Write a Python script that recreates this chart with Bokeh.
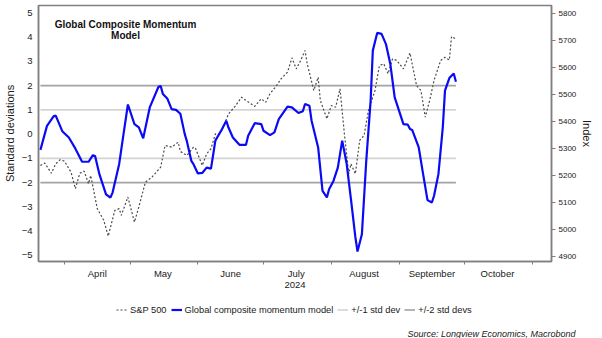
from datetime import datetime
import pandas as pd
from bokeh.plotting import figure
from bokeh.layouts import column
from bokeh.models import (Range1d, LinearAxis, FixedTicker, DatetimeTickFormatter,
                          Legend, LegendItem, Label, Title)
from bokeh.embed import file_html
from bokeh.resources import INLINE

FONT = "Liberation Sans"

# ---------------- data ----------------
model_dates = [
    "2024-03-21", "2024-03-24", "2024-03-27", "2024-03-28", "2024-03-31",
    "2024-04-03", "2024-04-06", "2024-04-09", "2024-04-12", "2024-04-14",
    "2024-04-15", "2024-04-17", "2024-04-20", "2024-04-22", "2024-04-23",
    "2024-04-26", "2024-04-28", "2024-04-30", "2024-05-03", "2024-05-05",
    "2024-05-07", "2024-05-10", "2024-05-14", "2024-05-15", "2024-05-16",
    "2024-05-18", "2024-05-20", "2024-05-22", "2024-05-24", "2024-05-26",
    "2024-05-27", "2024-05-29", "2024-05-30", "2024-06-01", "2024-06-03",
    "2024-06-05", "2024-06-07", "2024-06-09", "2024-06-12", "2024-06-14",
    "2024-06-15", "2024-06-17", "2024-06-20", "2024-06-23", "2024-06-24",
    "2024-06-27", "2024-06-30", "2024-07-01", "2024-07-04", "2024-07-06",
    "2024-07-08", "2024-07-12", "2024-07-14", "2024-07-17", "2024-07-19",
    "2024-07-20", "2024-07-22", "2024-07-23", "2024-07-26", "2024-07-28",
    "2024-07-30", "2024-07-31", "2024-08-02", "2024-08-04", "2024-08-06",
    "2024-08-08", "2024-08-10", "2024-08-12", "2024-08-13", "2024-08-15",
    "2024-08-17", "2024-08-19", "2024-08-20", "2024-08-22", "2024-08-24",
    "2024-08-26", "2024-08-28", "2024-08-30", "2024-09-03", "2024-09-05",
    "2024-09-06", "2024-09-07", "2024-09-10", "2024-09-12", "2024-09-14",
    "2024-09-16", "2024-09-17", "2024-09-19", "2024-09-21", "2024-09-22",
    "2024-09-24", "2024-09-26", "2024-09-27",
]
model_values = [
    -0.65, 0.34, 0.73, 0.76, 0.12,
    -0.14, -0.60, -1.13, -1.14, -0.87,
    -0.90, -1.66, -2.48, -2.62, -2.41,
    -1.24, 0.00, 1.22, 0.41, 0.28,
    -0.17, 1.10, 1.95, 1.98, 1.65,
    1.47, 1.03, 1.00, 0.84, 0.00,
    -0.30, -1.10, -1.24, -1.62, -1.60,
    -1.38, -1.42, -0.27, 0.20, 0.55,
    0.27, -0.14, -0.44, -0.44, -0.07,
    0.45, 0.41, 0.14, -0.04, 0.07,
    0.62, 1.13, 1.10, 0.87, 0.94,
    1.24, 1.17, 0.55, -0.55, -2.34,
    -2.61, -2.27, -1.93, -1.38, -0.27,
    -1.20, -2.68, -4.23, -4.84, -4.13,
    -1.10, 1.38, 3.44, 4.17, 4.13,
    3.71, 2.89, 1.51, 0.41, 0.39,
    0.21, 0.17, -0.55, -1.65, -2.72,
    -2.82, -2.54, -1.65, 0.28, 1.79,
    2.31, 2.50, 2.16,
]

spx_dates = [
    "2024-03-21", "2024-03-23", "2024-03-26", "2024-03-28", "2024-03-30",
    "2024-04-01", "2024-04-04", "2024-04-06", "2024-04-08", "2024-04-10",
    "2024-04-12", "2024-04-13", "2024-04-16", "2024-04-19", "2024-04-21",
    "2024-04-24", "2024-04-26", "2024-04-27", "2024-04-30", "2024-05-03",
    "2024-05-05", "2024-05-08", "2024-05-11", "2024-05-15", "2024-05-17",
    "2024-05-20", "2024-05-23", "2024-05-24", "2024-05-27", "2024-05-30",
    "2024-05-31", "2024-06-03", "2024-06-05", "2024-06-07", "2024-06-09",
    "2024-06-11", "2024-06-12", "2024-06-15", "2024-06-18", "2024-06-21",
    "2024-06-23", "2024-06-27", "2024-06-30", "2024-07-02", "2024-07-04",
    "2024-07-07", "2024-07-09", "2024-07-12", "2024-07-14", "2024-07-16",
    "2024-07-18", "2024-07-20", "2024-07-21", "2024-07-24", "2024-07-26",
    "2024-07-27", "2024-07-30", "2024-08-01", "2024-08-03", "2024-08-05",
    "2024-08-07", "2024-08-09", "2024-08-10", "2024-08-12", "2024-08-14",
    "2024-08-16", "2024-08-18", "2024-08-21", "2024-08-23", "2024-08-25",
    "2024-08-27", "2024-08-29", "2024-08-31", "2024-09-03", "2024-09-06",
    "2024-09-09", "2024-09-11", "2024-09-13", "2024-09-15", "2024-09-17",
    "2024-09-20", "2024-09-22", "2024-09-24", "2024-09-25", "2024-09-27",
]
spx_values = [
    5237, 5246, 5208, 5243, 5258,
    5253, 5212, 5151, 5208, 5216,
    5169, 5200, 5077, 5033, 4975,
    5070, 5077, 5052, 5120, 5027,
    5083, 5175, 5194, 5231, 5311,
    5305, 5323, 5289, 5274, 5305,
    5299, 5237, 5280, 5299, 5354,
    5354, 5367, 5428, 5456, 5490,
    5478, 5456, 5484, 5471, 5503,
    5533, 5558, 5583, 5636, 5595,
    5626, 5663, 5614, 5515, 5564,
    5478, 5410, 5459, 5453, 5521,
    5354, 5206, 5243, 5206, 5330,
    5348, 5441, 5515, 5607, 5614,
    5577, 5632, 5626, 5595, 5654,
    5533, 5515, 5416, 5478, 5552,
    5626, 5638, 5628, 5715, 5706,
]

std1_levels = [1, -1]
std2_levels = [2, -2]
left_ticks = [-5, -4, -3, -2, -1, 0, 1, 2, 3, 4, 5]
right_ticks = [4900, 5000, 5100, 5200, 5300, 5400, 5500, 5600, 5700, 5800]
month_starts = ["2024-04-01", "2024-05-01", "2024-06-01", "2024-07-01",
                "2024-08-01", "2024-09-01", "2024-10-01", "2024-11-01"]
month_label_pos = ["2024-04-16", "2024-05-16", "2024-06-16", "2024-07-16",
                   "2024-08-16", "2024-09-16", "2024-10-16"]
legend_labels = ["S&P 500", "Global composite momentum model",
                 "+/-1 std dev", "+/-2 std devs"]
source_text = "Source: Longview Economics, Macrobond"

# ---------------- styles ----------------
SPX_STYLE = dict(line_color="#4a4a4a", line_width=1.2, line_dash="2 2")
MOD_STYLE = dict(line_color="#0a0af5", line_width=2.2)
STD1_STYLE = dict(line_color="#d4d4d4", line_width=1.6)
STD2_STYLE = dict(line_color="#a3a3a3", line_width=1.6)
AXIS_GRAY = "#7f7f7f"
TXT = "#1a1a1a"


def ms(s):
    return pd.Timestamp(s).value / 1e6


mdates = pd.to_datetime(model_dates)
sdates = pd.to_datetime(spx_dates)

# ---------------- main chart ----------------
p = figure(width=602, height=296, x_axis_type="datetime",
           output_backend="svg", toolbar_location=None,
           x_range=Range1d(datetime(2024, 3, 20, 3), datetime(2024, 11, 9, 17)),
           y_range=Range1d(-5.25, 5.3),
           min_border_left=37, min_border_right=51,
           min_border_top=5, min_border_bottom=35)
p.background_fill_color = "white"
p.border_fill_color = "white"
p.xgrid.visible = False
p.ygrid.visible = False
p.outline_line_color = AXIS_GRAY
p.outline_line_width = 1.5

p.extra_y_ranges = {"idx": Range1d(4881, 5830)}

x_start = mdates.min()
x_end = mdates.max()
p.segment(x0=pd.to_datetime([x_start] * 2), x1=pd.to_datetime([x_end] * 2),
          y0=std1_levels, y1=std1_levels, **STD1_STYLE)
p.segment(x0=pd.to_datetime([x_start] * 2), x1=pd.to_datetime([x_end] * 2),
          y0=std2_levels, y1=std2_levels, **STD2_STYLE)
p.line(x=sdates, y=spx_values, y_range_name="idx", **SPX_STYLE)
p.line(x=mdates, y=model_values, **MOD_STYLE)

# left axis
ya = p.yaxis[0]
ya.ticker = FixedTicker(ticks=left_ticks)
ya.axis_label = "Standard deviations"
ya.axis_label_text_font = FONT
ya.axis_label_text_font_size = "11px"
ya.axis_label_text_font_style = "normal"
ya.axis_label_text_color = TXT
ya.axis_label_standoff = 3
ya.major_label_text_font = FONT
ya.major_label_text_font_size = "9.5px"
ya.major_label_text_color = TXT
ya.major_label_standoff = 6
ya.major_tick_out = 0
ya.major_tick_in = 0
ya.minor_tick_out = 0
ya.minor_tick_in = 0
ya.axis_line_color = AXIS_GRAY
ya.axis_line_width = 1.5

# right axis
ra = LinearAxis(y_range_name="idx", ticker=FixedTicker(ticks=right_ticks),
                axis_label="Index")
ra.axis_label_text_font = FONT
ra.axis_label_text_font_size = "11px"
ra.axis_label_text_font_style = "normal"
ra.axis_label_text_color = TXT
ra.axis_label_standoff = 2
ra.major_label_text_font = FONT
ra.major_label_text_font_size = "8px"
ra.major_label_text_color = TXT
ra.major_label_standoff = 3
ra.major_tick_out = 4
ra.major_tick_in = 0
ra.major_tick_line_color = AXIS_GRAY
ra.minor_tick_out = 0
ra.minor_tick_in = 0
ra.axis_line_color = AXIS_GRAY
ra.axis_line_width = 1.5
p.add_layout(ra, "right")

# bottom axis: month names mid-month, tick marks at month starts
xa = p.xaxis[0]
xa.ticker = FixedTicker(ticks=[ms(d) for d in month_label_pos],
                        minor_ticks=[ms(d) for d in month_starts])
fmt = "%B"
xa.formatter = DatetimeTickFormatter(
    microseconds=fmt, milliseconds=fmt, seconds=fmt, minsec=fmt, minutes=fmt,
    hourmin=fmt, hours=fmt, days=fmt, months=fmt, years=fmt)
xa.axis_label = "2024"
xa.axis_label_text_font = FONT
xa.axis_label_text_font_size = "9.5px"
xa.axis_label_text_font_style = "normal"
xa.axis_label_text_color = TXT
xa.axis_label_standoff = 0
xa.major_label_text_font = FONT
xa.major_label_text_font_size = "9.5px"
xa.major_label_text_color = TXT
xa.major_label_standoff = 3
xa.major_tick_out = 0
xa.major_tick_in = 0
xa.minor_tick_out = 3
xa.minor_tick_in = 0
xa.minor_tick_line_color = AXIS_GRAY
xa.axis_line_color = AXIS_GRAY
xa.axis_line_width = 1.5

# in-plot title
for txt, yy in [("Global Composite Momentum", 237), ("Model", 226)]:
    p.add_layout(Label(x=87, y=yy, x_units="screen", y_units="screen", text=txt,
                       text_align="center", text_baseline="middle",
                       text_font=FONT, text_font_size="10px",
                       text_font_style="bold", text_color="#111111"))

# ---------------- legend + source strip ----------------
q = figure(width=602, height=42, output_backend="svg", toolbar_location=None,
           x_range=Range1d(0, 1), y_range=Range1d(0, 1),
           x_axis_location=None, y_axis_location=None,
           min_border=0)
q.xgrid.visible = False
q.ygrid.visible = False
q.outline_line_color = None
q.background_fill_color = "white"
q.border_fill_color = "white"

nan = float("nan")
k_spx = q.line(x=[nan], y=[nan], **SPX_STYLE)
k_mod = q.line(x=[nan], y=[nan], **MOD_STYLE)
k_s1 = q.line(x=[nan], y=[nan], **STD1_STYLE)
k_s2 = q.line(x=[nan], y=[nan], **STD2_STYLE)

legend = Legend(items=[
    LegendItem(label=legend_labels[0], renderers=[k_spx]),
    LegendItem(label=legend_labels[1], renderers=[k_mod]),
    LegendItem(label=legend_labels[2], renderers=[k_s1]),
    LegendItem(label=legend_labels[3], renderers=[k_s2]),
], orientation="horizontal", location=(78, 11))
legend.label_text_font = FONT
legend.label_text_font_size = "9.3px"
legend.label_text_color = TXT
legend.glyph_width = 11
legend.glyph_height = 9
legend.label_height = 11
legend.label_standoff = 3
legend.spacing = 4
legend.padding = 0
legend.margin = 0
legend.border_line_color = None
legend.background_fill_alpha = 0
q.add_layout(legend)

src = Title(text=source_text, align="right", offset=-24, standoff=0,
            text_font=FONT, text_font_size="9px", text_font_style="italic",
            text_color=TXT)
q.add_layout(src, "below")

layout = column(p, q, spacing=0)
open("out.html", "w").write(file_html(layout, INLINE))
